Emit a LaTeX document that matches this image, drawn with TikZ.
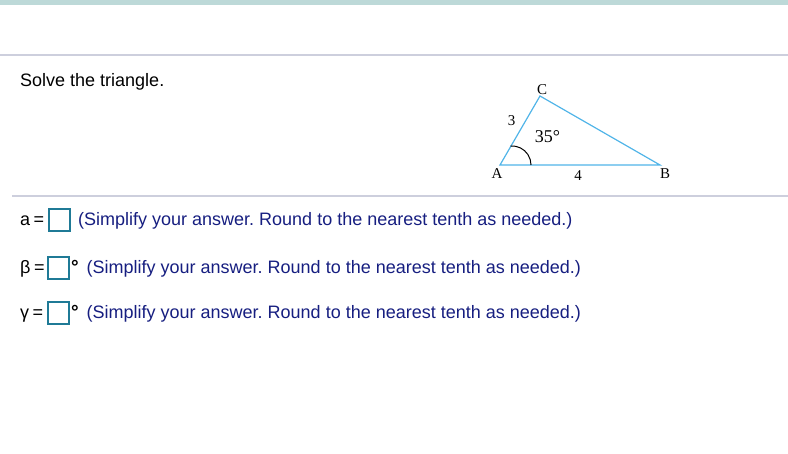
\documentclass[tikz,border=0pt]{standalone}
\usepackage{fontspec}
\setmainfont{Liberation Serif}
\newfontfamily\arialfont{Liberation Sans}
\frenchspacing

\definecolor{bandteal}{RGB}{189,217,216}
\definecolor{rulegray}{RGB}{205,207,221}
\definecolor{triblue}{RGB}{80,180,232}
\definecolor{boxteal}{RGB}{31,122,150}
\definecolor{hintnavy}{RGB}{22,30,128}

\tikzset{
    sanstext/.style={anchor=base west, inner sep=0pt, font=\arialfont\fontsize{18}{21}\selectfont},
    hinttext/.style={sanstext, text=hintnavy},
    degmark/.style={sanstext, font=\arialfont\bfseries\fontsize{19}{21}\selectfont},
    ansbox/.style={draw=boxteal, line width=2pt, inner sep=0pt, minimum width=21pt, minimum height=22pt},
    vertexlabel/.style={inner sep=0pt, font=\fontsize{15}{17}\selectfont}
}

\begin{document}
\begin{tikzpicture}[x=1pt, y=-1pt]
    % Page frame in pixel units: 788 x 454, y grows downwards
    \useasboundingbox (0,0) rectangle (788,454);
    \fill[bandteal] (0,0) rectangle (788,5.5);
    \draw[rulegray, line width=2pt] (0,55) -- (788,55);
    \draw[rulegray, line width=2pt] (12,196.5) -- (788,196.5);

    % Question text
    \node[sanstext] (task) at (20,87) {Solve the triangle.};

    % Triangle vertices
    \coordinate (A) at (500,165);
    \coordinate (B) at (660,165);
    \coordinate (C) at (540,96);
    \draw[triblue, line width=1.2pt] (A) -- (B) -- (C) -- cycle;

    % Angle mark at A
    \draw[black, line width=1pt] (A) ++(10.7,-19) arc[start angle=-94, end angle=0, radius=19];

    % Vertex and side labels
    \node[vertexlabel] (labC) at (542,90) {C};
    \node[vertexlabel] (labA) at (497,173.5) {A};
    \node[vertexlabel] (labB) at (665,173.5) {B};
    \node[vertexlabel] (side3) at (511.5,121) {3};
    \node[vertexlabel] (side4) at (578,176) {4};
    \node[vertexlabel, font=\fontsize{18}{20}\selectfont] (angA) at (547.5,137) {35°};

    % Answer row: side a
    \node[sanstext] (aeq) at (20,226) {a\hspace{3.5pt}=};
    \node[ansbox] (abox) at (59.5,220) {};
    \node[hinttext] (ahint) at (78,226) {(Simplify your answer. Round to the nearest tenth as needed.)};

    % Answer row: angle beta
    \node[sanstext] (beq) at (20,274) {β\hspace{3.5pt}=};
    \node[ansbox] (bbox) at (58.5,268) {};
    \node[degmark] (bdeg) at (71,274) {°};
    \node[hinttext] (bhint) at (86.5,274) {(Simplify your answer. Round to the nearest tenth as needed.)};

    % Answer row: angle gamma
    \node[sanstext] (geq) at (20,319) {γ\hspace{3.5pt}=};
    \node[ansbox] (gbox) at (58.5,313.5) {};
    \node[degmark] (gdeg) at (71,319) {°};
    \node[hinttext] (ghint) at (86.5,319) {(Simplify your answer. Round to the nearest tenth as needed.)};
\end{tikzpicture}
\end{document}
